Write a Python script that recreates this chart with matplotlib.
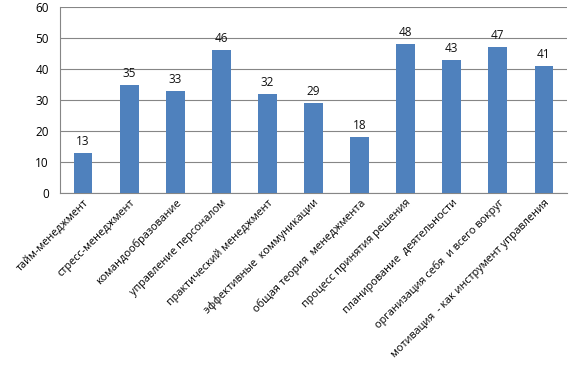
import numpy as np
import matplotlib
matplotlib.use("Agg")
import matplotlib.pyplot as plt

categories = [
    "тайм-менеджмент",
    "стресс-менеджмент",
    "командообразование",
    "управление персоналом",
    "практический менеджмент",
    "эффективные  коммуникации",
    "общая теория  менеджмента",
    "процесс принятия решения",
    "планирование  деятельности",
    "организация себя  и всего вокруг",
    "мотивация  - как инструмент управления",
]
values = [13, 35, 33, 46, 32, 29, 18, 48, 43, 47, 41]

plt.rcParams["font.family"] = ["Open Sans", "DejaVu Sans"]

fig = plt.figure(figsize=(5.8, 3.66), dpi=100)
ax = fig.add_axes([60 / 580, 1 - 193 / 366, (567 - 60) / 580, (193 - 7) / 366])

x = np.arange(len(categories))
ax.bar(x, values, width=0.41, color="#4f81bd", zorder=3)
for xi, v in zip(x, values):
    ax.text(xi, v + 1.6, str(v), ha="center", va="bottom", fontsize=8.5, color="#111111")

ax.set_xlim(-0.5, len(categories) - 0.5)
ax.set_ylim(0, 60)
ax.set_yticks(range(0, 61, 10))
ax.yaxis.grid(True, color="#868686", linewidth=0.8, zorder=0)
ax.set_xticks(x)
ax.set_xticklabels(categories, rotation=45, ha="right", rotation_mode="anchor", fontsize=7.8)
ax.tick_params(axis="x", length=0, pad=3)
ax.tick_params(axis="y", length=0, pad=8, labelsize=8.5)
for s in ["top", "right"]:
    ax.spines[s].set_visible(False)
for s in ["left", "bottom"]:
    ax.spines[s].set_color("#868686")

fig.savefig("out.png", dpi=100)
